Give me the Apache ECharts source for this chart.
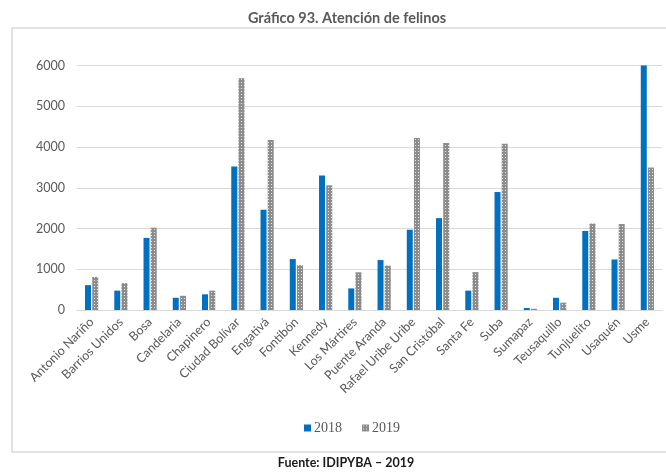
<!DOCTYPE html>
<html>
<head>
<meta charset="utf-8">
<script src="https://cdn.jsdelivr.net/npm/echarts@6/dist/echarts.min.js"></script>
<style>
  html, body { margin: 0; padding: 0; background: #fff; }
  #chart { width: 666px; height: 472px; }
</style>
</head>
<body>
<div id="chart"></div>
<script>
// localidades de Bogotá
const categories = [
  'Antonio Nariño', 'Barrios Unidos', 'Bosa', 'Candelaria', 'Chapinero',
  'Ciudad Bolívar', 'Engativá', 'Fontibón', 'Kennedy', 'Los Mártires',
  'Puente Aranda', 'Rafael Uribe Uribe', 'San Cristóbal', 'Santa Fe', 'Suba',
  'Sumapaz', 'Teusaquillo', 'Tunjuelito', 'Usaquén', 'Usme'
]
const values2018 = [610, 475, 1770, 300, 385, 3520, 2460, 1250, 3300, 530,
  1225, 1970, 2255, 475, 2895, 50, 300, 1940, 1240, 6000]
const values2019 = [810, 660, 2020, 350, 475, 5690, 4170, 1100, 3060, 925,
  1090, 4220, 4100, 930, 4080, 30, 180, 2120, 2110, 3500]
const yTicks = [0, 1000, 2000, 3000, 4000, 5000, 6000]

const title = 'Gráfico 93. Atención de felinos'
const source = 'Fuente: IDIPYBA – 2019'

// trama gris de la serie 2019
function grayPattern () {
  const c = document.createElement('canvas')
  c.width = 3; c.height = 3
  const ctx = c.getContext('2d')
  ctx.fillStyle = '#8c8c8c'
  ctx.fillRect(0, 0, 3, 3)
  ctx.fillStyle = '#e6e6e6'
  ctx.fillRect(1, 1, 1, 1)
  return c
}
const pattern2019 = { image: grayPattern(), repeat: 'repeat' }
const blue = '#0070c0'
const textGray = '#595959'
const lineGray = '#d9d9d9'

const chart = echarts.init(document.getElementById('chart'))
chart.setOption({
  animation: false,
  textStyle: { fontFamily: 'Lato, sans-serif' },
  grid: { left: 77, right: 4, top: 65.5, bottom: 162 },
  legend: {
    data: ['2018', '2019'], left: 299, top: 416,
    itemWidth: 7, itemHeight: 7, itemGap: 20,
    icon: 'rect',
    textStyle: { color: textGray, fontFamily: 'Liberation Serif', fontSize: 14, padding: [0, 0, 0, -2] },
  },
  xAxis: {
    type: 'category', data: categories,
    axisLine: { lineStyle: { color: lineGray, width: 1 } },
    axisTick: { show: false },
    axisLabel: { rotate: 45, interval: 0, margin: 10, color: textGray, fontSize: 12.5 },
  },
  yAxis: {
    type: 'value', min: yTicks[0], max: yTicks[yTicks.length - 1], interval: 1000,
    axisLine: { show: false }, axisTick: { show: false },
    axisLabel: { margin: 12, color: textGray, fontSize: 12.5, formatter: v => String(v) },
    splitLine: { lineStyle: { color: lineGray, width: 1 } },
  },
  series: [
    { name: '2018', type: 'bar', data: values2018, barWidth: 6, barGap: '20%',
      itemStyle: { color: blue } },
    { name: '2019', type: 'bar', data: values2019, barWidth: 6,
      itemStyle: { color: pattern2019 } },
  ],
  graphic: [
    { type: 'rect', shape: { x: 12, y: 28, width: 680, height: 424 },
      style: { fill: 'none', stroke: lineGray, lineWidth: 1.5 }, silent: true },
    { type: 'text', x: 347, y: 18,
      style: { text: title, fill: textGray, font: 'bold 14.5px Lato, sans-serif', align: 'center', verticalAlign: 'middle' } },
    { type: 'text', x: 346, y: 463,
      style: { text: source, fill: '#1a1a1a', font: 'bold 12.5px Lato, sans-serif', align: 'center', verticalAlign: 'middle' } },
  ],
})
</script>
</body>
</html>
